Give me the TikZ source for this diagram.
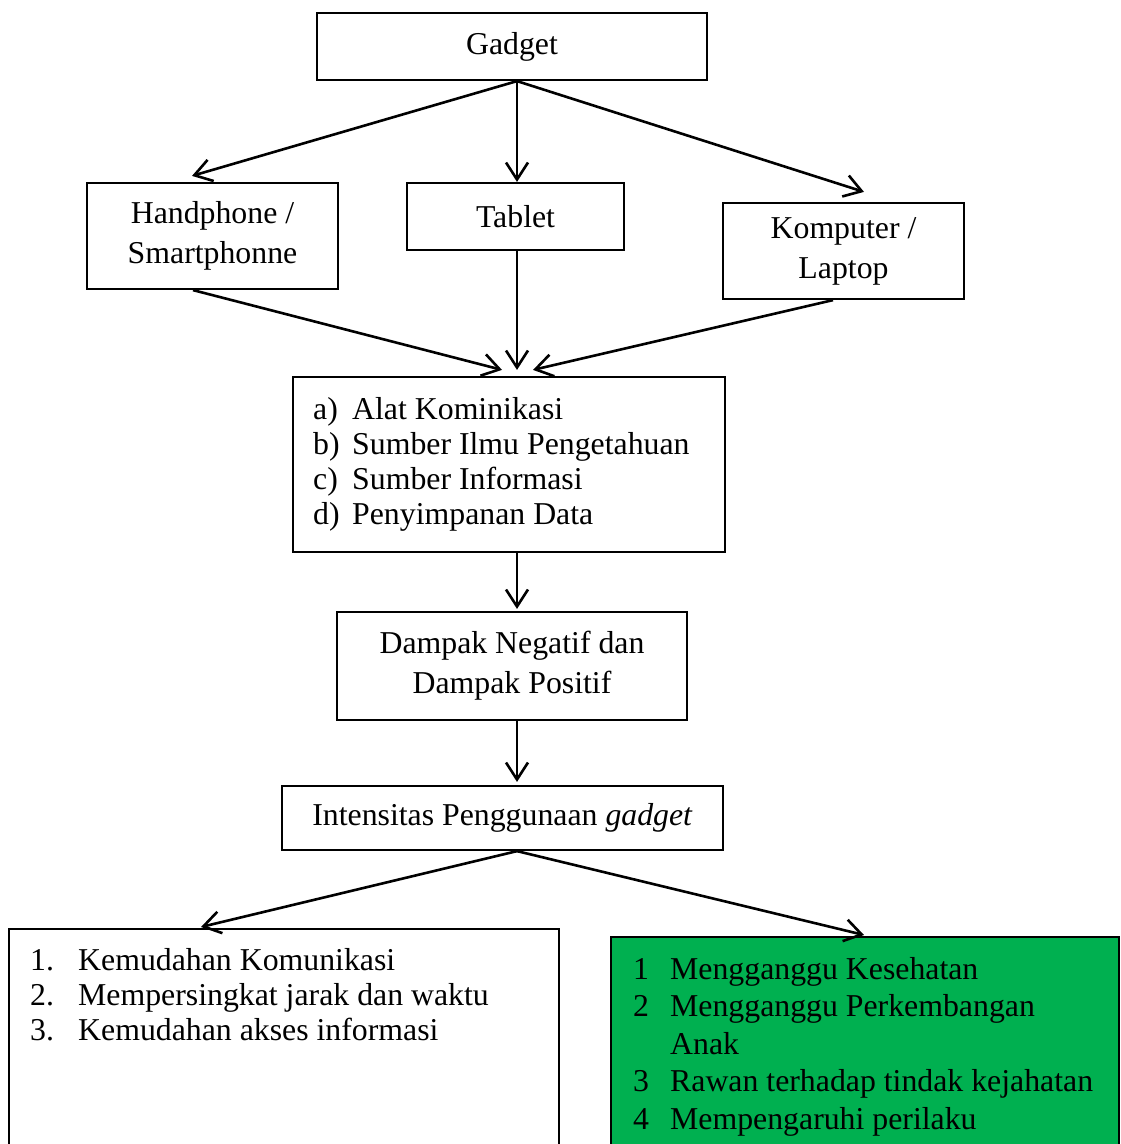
\documentclass[tikz,border=0pt]{standalone}
\usepackage{fontspec}
\setmainfont{Liberation Serif}
\usetikzlibrary{arrows.meta,calc}
\definecolor{boxgreen}{RGB}{0,176,80}
\begin{document}
\begin{tikzpicture}[x=1pt,y=-1pt,
  font=\fontsize{31.8}{40}\selectfont,
  box/.style={draw=black,line width=2.2pt,inner sep=0pt,align=center},
  txt/.style={inner sep=0pt,align=left,anchor=north west},
  arr/.style={line width=2.6pt,-{Straight Barb[length=17pt,width=22pt,line width=2.6pt]}}]
\useasboundingbox (0,0) rectangle (1120,1144);
\clip (0,0) rectangle (1120,1144);

\node[box,minimum width=390pt,minimum height=67pt] (gadget) at (512,46.5) {Gadget};
\node[box,minimum width=251pt,minimum height=106pt] (hp) at (212.5,236) {Handphone /\\Smartphonne};
\node[box,minimum width=217pt,minimum height=67pt] (tablet) at (515.5,216.5) {Tablet};
\node[box,minimum width=241pt,minimum height=96pt] (komp) at (843.5,251) {Komputer /\\Laptop};

\node[box,minimum width=432pt,minimum height=175pt] (list) at (509,464.5) {};
\node[txt,font=\fontsize{31.8}{35}\selectfont] (listtxt) at (313,394.5)
  {\strut\makebox[39pt][l]{a)}Alat Kominikasi\\
   \makebox[39pt][l]{b)}Sumber Ilmu Pengetahuan\\
   \makebox[39pt][l]{c)}Sumber Informasi\\
   \makebox[39pt][l]{d)}Penyimpanan Data};

\node[box,minimum width=350pt,minimum height=108pt] (dampak) at (512,666) {Dampak Negatif dan\\Dampak Positif};
\node[box,minimum width=441pt,minimum height=64pt] (intens) at (502.5,818) {Intensitas Penggunaan \textit{gadget}};

\node[box,minimum width=550pt,minimum height=300pt,anchor=north] (pos) at (284,928) {};
\node[box,fill=boxgreen,minimum width=508pt,minimum height=300pt,anchor=north] (neg) at (865,936) {};

\node[txt,font=\fontsize{31.8}{35}\selectfont] (postxt) at (30,946)
  {\strut\makebox[48pt][l]{1.}Kemudahan Komunikasi\\
   \makebox[48pt][l]{2.}Mempersingkat jarak dan waktu\\
   \makebox[48pt][l]{3.}Kemudahan akses informasi};
\node[txt,font=\fontsize{31.8}{37.5}\selectfont] (negtxt) at (633,953)
  {\strut\makebox[37pt][l]{1}Mengganggu Kesehatan\\
   \makebox[37pt][l]{2}Mengganggu Perkembangan\\
   \hspace*{37pt}Anak\\
   \makebox[37pt][l]{3}Rawan terhadap tindak kejahatan\\
   \makebox[37pt][l]{4}Mempengaruhi perilaku};

\coordinate (o1) at ([xshift=5pt]gadget.south);
\draw[arr] (o1) -- ([xshift=-20.5pt,yshift=6pt]hp.north);
\draw[arr] (o1) -- (o1 |- tablet.north);
\draw[arr] (o1) -- ([xshift=20.5pt,yshift=10pt]komp.north);

\draw[arr] ([xshift=-19.5pt]hp.south) -- ([xshift=-7pt,yshift=6pt]list.north);
\draw[arr] ([xshift=1.5pt]tablet.south) -- ([xshift=8pt,yshift=6pt]list.north);
\draw[arr] ([xshift=-10.5pt]komp.south) -- ([xshift=24pt,yshift=6pt]list.north);

\draw[arr] ([xshift=8pt]list.south) -- ([xshift=5pt,yshift=2pt]dampak.north);
\draw[arr] ([xshift=5pt]dampak.south) -- ([xshift=14.5pt,yshift=3pt]intens.north);

\coordinate (o2) at ([xshift=14.5pt]intens.south);
\draw[arr] (o2) -- ([xshift=-83pt,yshift=1pt]pos.north);
\draw[arr] (o2) -- ([xshift=-1pt,yshift=1pt]neg.north);
\end{tikzpicture}
\end{document}
